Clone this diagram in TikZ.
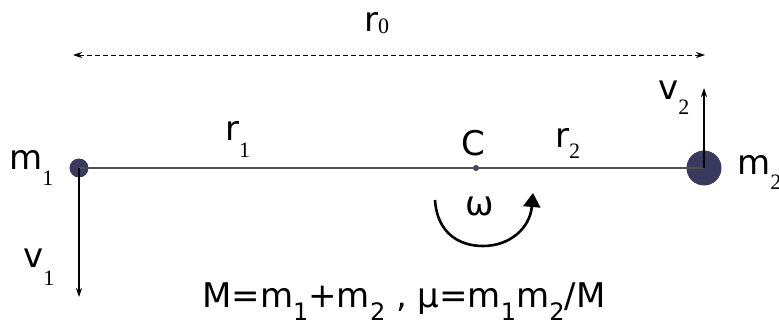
\documentclass[tikz,border=0pt]{standalone}
\usepackage{fontspec}
\setmainfont{DejaVu Sans}
\newfontfamily\subserif{Liberation Serif}
\usetikzlibrary{arrows.meta}
\definecolor{massblue}{RGB}{58,58,94}
\definecolor{rodgray}{RGB}{80,80,80}
\newcommand\ssub[2]{\raisebox{-#1}{\subserif\fontsize{22}{22}\selectfont #2}}
\newcommand\fsub[1]{\raisebox{-13pt}{\fontsize{24}{24}\selectfont #1}}
\begin{document}
\begin{tikzpicture}[x=1pt,y=-1pt,
  mass/.style={circle,fill=massblue,inner sep=0pt},
  lbl/.style={anchor=base west,inner sep=0pt,font=\fontsize{34}{34}\selectfont},
  rod/.style={draw=rodgray,line width=1.2pt},
  vec/.style={draw=black,line width=1.1pt,-{Stealth[length=9pt,width=6pt]}},
  dist/.style={draw=black,line width=0.9pt,dash pattern=on 5pt off 3pt,
    {Stealth[length=9pt,width=6pt]}-{Stealth[length=9pt,width=6pt]}},
  spin/.style={draw=black,line width=2.6pt,-{Triangle[length=14pt,width=17pt]}}]
\useasboundingbox (0,0) rectangle (779,326);
% masses and centre
\node[mass,minimum size=19pt] (m1dot) at (79,168) {};
\node[mass,minimum size=35pt] (m2dot) at (704,168) {};
\node[mass,minimum size=6pt] (cdot) at (476,168) {};
% rod
\draw[rod] (m1dot.center) -- (m2dot.center);
% velocities
\coordinate (v1end) at (79,297);
\coordinate (v2end) at (704,88);
\draw[vec] (m1dot.center) -- (v1end);
\draw[vec] (m2dot.center) -- (v2end);
% distance r0
\coordinate (dl) at (73,55);
\coordinate (dr) at (705,55);
\draw[dist] (dl) -- (dr);
% rotation arrow
\coordinate (ws) at (435,200);
\coordinate (wb) at (483,246);
\coordinate (we) at (533,193);
\draw[spin] (ws) .. controls (437,232) and (458,246) .. (wb)
  .. controls (510,246) and (530,228) .. (we);
% labels
\node[lbl] (r0) at (364,32) {r\raisebox{-2pt}{\subserif\fontsize{22}{22}\selectfont 0}};
\node[lbl] (m1) at (9,169) {m\ssub{17pt}{1}};
\node[lbl] (m2) at (737,175) {m\ssub{15pt}{2}};
\node[lbl] (r1) at (225,141) {r\ssub{17pt}{1}};
\node[lbl] (r2) at (555,147) {r\ssub{11pt}{2}};
\node[lbl] (v1) at (23,267) {v\ssub{18pt}{1}};
\node[lbl] (v2) at (658,100) {v\ssub{15pt}{2}};
\node[lbl] (C) at (461,155) {C};
\node[lbl] (w) at (465,215) {ω};
\node[lbl] (formula) at (202,307) {M=m\fsub{1}+m\fsub{2} , μ=m\fsub{1}m\fsub{2}/M};
\end{tikzpicture}
\end{document}
